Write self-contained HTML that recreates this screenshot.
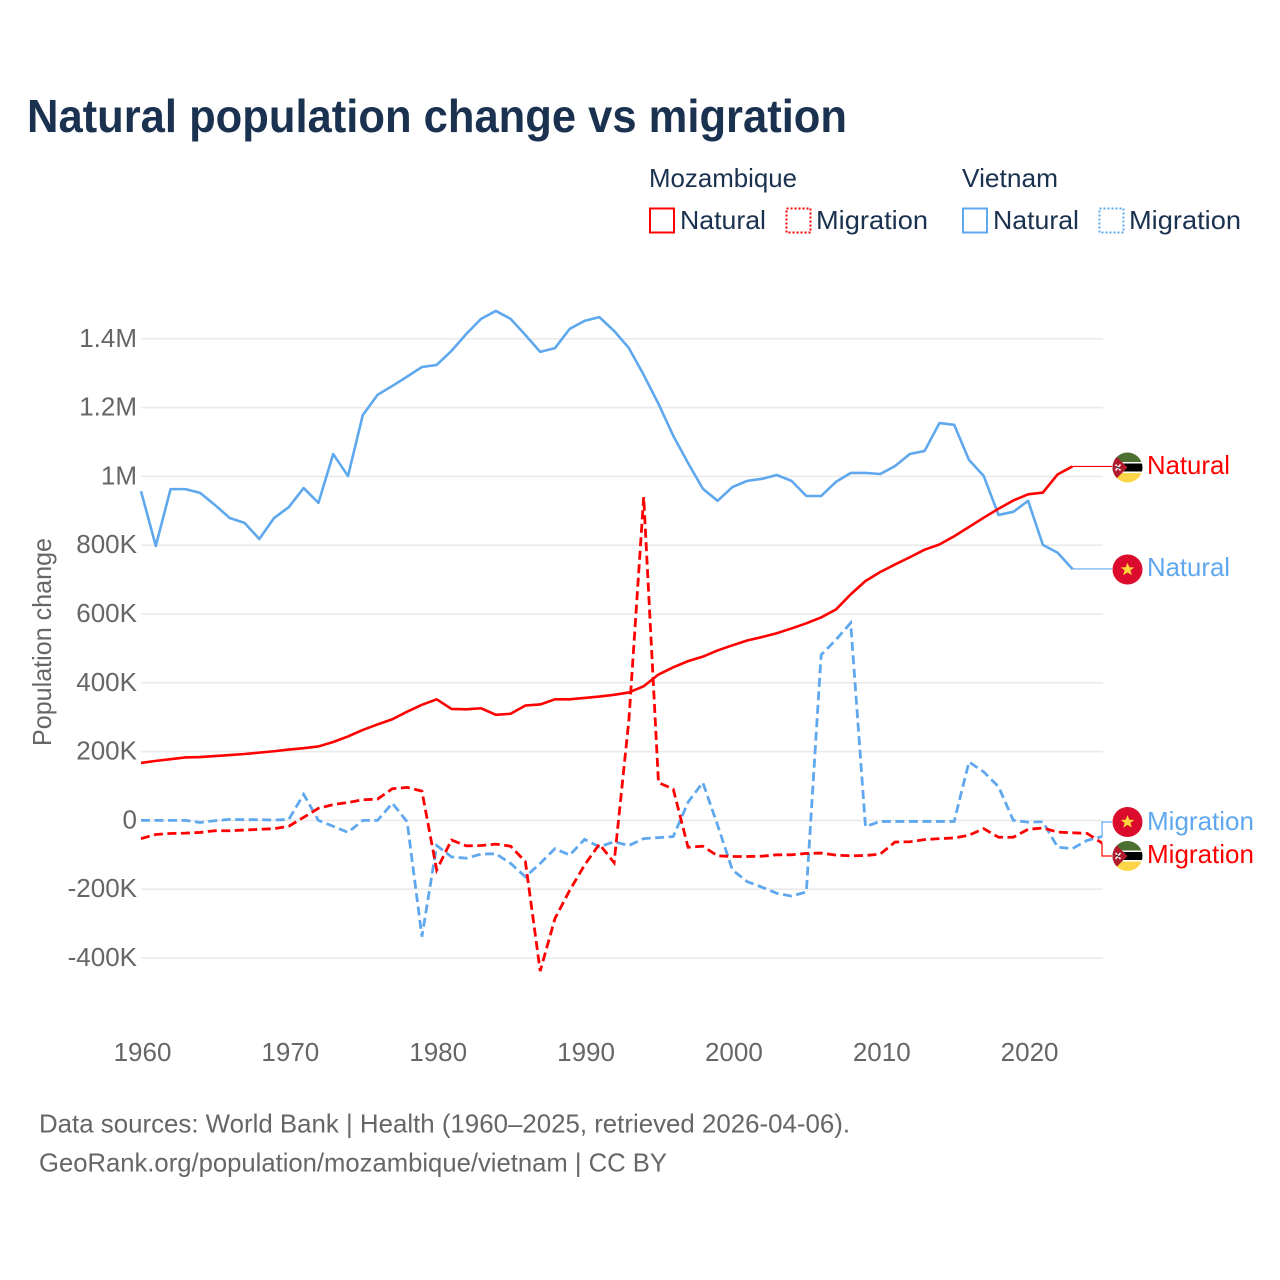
<!DOCTYPE html>
<html lang="en">
<head>
<meta charset="utf-8">
<title>Natural population change vs migration</title>
<style>
  html, body { margin: 0; padding: 0; background: #fff; }
  svg { display: block; font-family: "Liberation Sans", sans-serif; }
  .dark { fill: #1a3150; }
  .grey { fill: #666; }
  .tick { font-size: 26px; fill: #666; }
  .leg { font-size: 26px; fill: #1a3150; }
  .end { font-size: 26px; }
</style>
</head>
<body>
<svg id="chart" width="1280" height="1280" viewBox="0 0 1280 1280" xmlns="http://www.w3.org/2000/svg">
  <defs>
    <clipPath id="flag-clip"><circle cx="0" cy="0" r="15"></circle></clipPath>
    <g id="flag-mz">
      <g clip-path="url(#flag-clip)">
        <rect x="-15" y="-15" width="30" height="10" fill="#4c7032"></rect>
        <rect x="-15" y="-5.5" width="30" height="1.5" fill="#fff"></rect>
        <rect x="-15" y="-4" width="30" height="8" fill="#000"></rect>
        <rect x="-15" y="4" width="30" height="1.5" fill="#fff"></rect>
        <rect x="-15" y="5.5" width="30" height="10" fill="#fcd648"></rect>
        <polygon points="-15,-15 0,0 -15,15" fill="#b01c2e"></polygon>
        <path d="M-12,-3 L-7,3 M-7,-3 L-12,3" stroke="#fff" stroke-width="1.4"></path>
        <path d="M-11,-1 L-8,1" stroke="#000" stroke-width="1"></path>
      </g>
    </g>
    <g id="flag-vn">
      <circle cx="0" cy="0" r="15" fill="#da0b2c"></circle>
      <polygon points="0,-6.8 1.9,-2.2 6.8,-2.1 2.9,0.9 4.3,5.6 0,2.9 -4.3,5.6 -2.9,0.9 -6.8,-2.1 -1.9,-2.2" fill="#ffd53e"></polygon>
    </g>
  </defs>

  <rect x="0" y="0" width="1280" height="1280" fill="#fff"></rect>

  <text class="dark" x="27" y="132" font-size="46" font-weight="700" textLength="820" lengthAdjust="spacingAndGlyphs">Natural population change vs migration</text>

  <g>
    <text class="leg" x="649" y="187" textLength="148" lengthAdjust="spacingAndGlyphs">Mozambique</text>
    <text class="leg" x="962" y="187" textLength="96" lengthAdjust="spacingAndGlyphs">Vietnam</text>

    <rect x="650" y="208.5" width="24" height="24" fill="none" stroke="#ff0000" stroke-width="2"></rect>
    <text class="leg" x="680" y="229" textLength="86" lengthAdjust="spacingAndGlyphs">Natural</text>
    <rect x="786.5" y="208.5" width="24" height="24" fill="none" stroke="#ff0000" stroke-width="2" stroke-dasharray="2 2"></rect>
    <text class="leg" x="816" y="229" textLength="112" lengthAdjust="spacingAndGlyphs">Migration</text>

    <rect x="963" y="208.5" width="24" height="24" fill="none" stroke="#5fa8ee" stroke-width="2"></rect>
    <text class="leg" x="993" y="229" textLength="86" lengthAdjust="spacingAndGlyphs">Natural</text>
    <rect x="1099.5" y="208.5" width="24" height="24" fill="none" stroke="#5fa8ee" stroke-width="2" stroke-dasharray="2 2"></rect>
    <text class="leg" x="1129" y="229" textLength="112" lengthAdjust="spacingAndGlyphs">Migration</text>
  </g>

  <g id="grid"></g>
  <g id="y-ticks"></g>
  <g id="x-ticks"></g>
  <text class="grey" font-size="26" text-anchor="middle" textLength="208" lengthAdjust="spacingAndGlyphs" transform="translate(51,642) rotate(-90)">Population change</text>
  <g id="series"></g>
  <g id="connectors"></g>

  <g>
    <use href="#flag-mz" x="1127.5" y="467.5"></use>
    <text class="end" fill="#ff0000" x="1147" y="474" textLength="83" lengthAdjust="spacingAndGlyphs">Natural</text>
    <use href="#flag-vn" x="1127.5" y="569.5"></use>
    <text class="end" fill="#5fa8ee" x="1147" y="576" textLength="83" lengthAdjust="spacingAndGlyphs">Natural</text>
    <use href="#flag-vn" x="1127.5" y="822"></use>
    <text class="end" fill="#5fa8ee" x="1147" y="830" textLength="107" lengthAdjust="spacingAndGlyphs">Migration</text>
    <use href="#flag-mz" x="1127.5" y="856"></use>
    <text class="end" fill="#ff0000" x="1147" y="863" textLength="107" lengthAdjust="spacingAndGlyphs">Migration</text>
  </g>

  <text class="grey" x="39" y="1132.5" font-size="26" textLength="811" lengthAdjust="spacingAndGlyphs">Data sources: World Bank | Health (1960–2025, retrieved 2026-04-06).</text>
  <text class="grey" x="39" y="1171.5" font-size="26" textLength="628" lengthAdjust="spacingAndGlyphs">GeoRank.org/population/mozambique/vietnam | CC BY</text>
</svg>

<script>
const startYear = 1960;
const yTickValues = [-400, -200, 0, 200, 400, 600, 800, 1000, 1200, 1400];
const yTickLabels = ["-400K", "-200K", "0", "200K", "400K", "600K", "800K", "1M", "1.2M", "1.4M"];
const xTickValues = [1960, 1970, 1980, 1990, 2000, 2010, 2020];
const xTickLabels = ["1960", "1970", "1980", "1990", "2000", "2010", "2020"];

const vietnamNatural = [957, 798, 963, 963, 952, 917, 879, 865, 818, 879, 911, 966, 923, 1065, 1001, 1178, 1237, 1263, 1290, 1318, 1324, 1365, 1414, 1458, 1481, 1458, 1411, 1362, 1373, 1429, 1452, 1463, 1423, 1373, 1295, 1211, 1118, 1039, 964, 929, 969, 987, 993, 1004, 987, 943, 943, 984, 1010, 1010, 1007, 1030, 1065, 1074, 1155, 1150, 1048, 1001, 888, 897, 929, 801, 778, 731];
const mozambiqueNatural = [167, 173, 178, 183, 184, 187, 190, 193, 197, 201, 206, 210, 215, 228, 244, 263, 279, 294, 316, 336, 352, 324, 323, 326, 307, 310, 334, 337, 352, 352, 356, 360, 365, 372, 390, 424, 445, 463, 476, 494, 509, 523, 533, 544, 558, 573, 590, 613, 657, 696, 722, 744, 765, 787, 802, 826, 853, 880, 906, 930, 948, 953, 1006, 1029];
const mozambiqueMigration = [-53, -41, -38, -37, -35, -30, -30, -28, -26, -24, -17, 9, 35, 46, 52, 60, 62, 92, 96, 85, -144, -57, -74, -73, -69, -75, -120, -438, -285, -203, -130, -69, -123, 292, 940, 110, 91, -78, -75, -103, -105, -105, -104, -100, -100, -96, -95, -101, -103, -102, -98, -63, -62, -56, -53, -51, -43, -24, -49, -49, -26, -22, -34, -36, -38, -66];
const vietnamMigration = [0, 0, 0, 0, -6, -1, 3, 2, 2, 1, 3, 76, 0, -17, -35, 0, 0, 50, -4, -338, -73, -106, -110, -98, -97, -125, -164, -125, -82, -101, -55, -77, -62, -73, -53, -50, -47, 53, 110, -14, -144, -178, -194, -212, -220, -208, 481, 525, 574, -18, -3, -3, -3, -3, -3, -3, 170, 141, 98, 0, -5, -4, -78, -82, -58, -47];

const NS = "http://www.w3.org/2000/svg";
function xScale(year) { return 141 + (year - 1960) * 14.785; }
function yScale(v) { return 820.4 - v * 0.344; }
function make(tag, parent, attrs) {
  const el = document.createElementNS(NS, tag);
  for (const k in attrs) el.setAttribute(k, attrs[k]);
  parent.appendChild(el);
  return el;
}

const grid = document.getElementById("grid");
const yTicks = document.getElementById("y-ticks");
const xTicks = document.getElementById("x-ticks");
const seriesGroup = document.getElementById("series");
const connectors = document.getElementById("connectors");

yTickValues.forEach(function (v, i) {
  const line = make("line", grid, { x1: 141, x2: 1103, y1: yScale(v), y2: yScale(v), stroke: "#eaeaea", "stroke-width": 1.6 });
  
  
  const label = make("text", yTicks, { x: 137, y: yScale(v) + 8, "text-anchor": "end", class: "tick" });
  
  
  label.textContent = yTickLabels[i];
});

xTickValues.forEach(function (year, i) {
  const label = make("text", xTicks, { x: xScale(year) + 1.5, y: 1061, "text-anchor": "middle", class: "tick" });
  
  
  label.textContent = xTickLabels[i];
});

function linePath(values) {
  return values.map(function (v, i) {
    return (i ? "L" : "M") + xScale(startYear + i).toFixed(2) + "," + yScale(v).toFixed(2);
  }).join(" ");
}
function lastPoint(values) {
  const i = values.length - 1;
  return { x: xScale(startYear + i), y: yScale(values[i]) };
}

const p1 = make("path", seriesGroup, { d: linePath(vietnamNatural), fill: "none", stroke: "#5fa8ee", "stroke-width": 2.6, "stroke-linejoin": "round" });


const p2 = make("path", seriesGroup, { d: linePath(vietnamMigration), fill: "none", stroke: "#5fa8ee", "stroke-width": 2.8, "stroke-dasharray": "9 4.5" });


const p3 = make("path", seriesGroup, { d: linePath(mozambiqueNatural), fill: "none", stroke: "#ff0000", "stroke-width": 2.6, "stroke-linejoin": "round" });


const p4 = make("path", seriesGroup, { d: linePath(mozambiqueMigration), fill: "none", stroke: "#ff0000", "stroke-width": 2.8, "stroke-dasharray": "9 4.5" });



function connector(values, labelY, color) {
  const end = lastPoint(values);
  const y = labelY === null ? end.y : labelY;
  const d = "M" + end.x + "," + end.y + " H" + Math.max(end.x, 1102) + " V" + y + " H1112";
  return make("path", connectors, { d: d, fill: "none", stroke: color, "stroke-width": 1.2 });
}
const c1 = connector(mozambiqueNatural, null, "#ff0000");


const c2 = connector(vietnamNatural, null, "#5fa8ee");


const c3 = connector(vietnamMigration, 822, "#5fa8ee");


const c4 = connector(mozambiqueMigration, 856, "#ff0000");


</script>
</body>
</html>
